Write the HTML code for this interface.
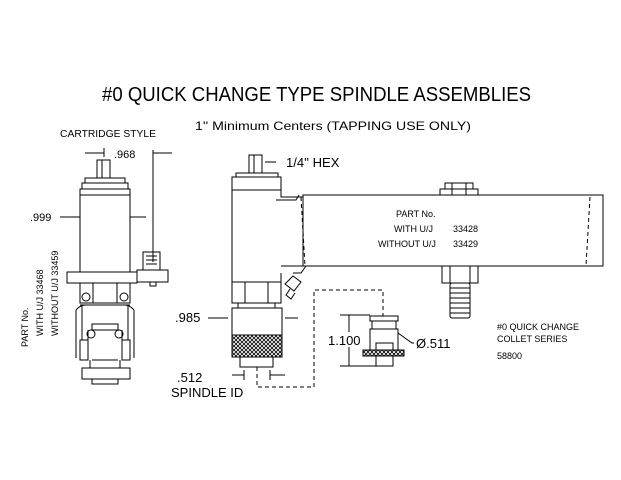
<!DOCTYPE html>
<html><head><style>body{margin:0;background:#fff}svg{display:block}text{font-family:"Liberation Sans",sans-serif;fill:#000}</style></head>
<body>
<svg width="621" height="480" viewBox="0 0 621 480" xmlns="http://www.w3.org/2000/svg">
<g fill="none" stroke="#000" stroke-width="1">
<text x="102" y="101" font-size="20" textLength="429" lengthAdjust="spacingAndGlyphs" stroke="none">#0 QUICK CHANGE TYPE SPINDLE ASSEMBLIES</text>
<text x="195" y="130" font-size="12" textLength="276" lengthAdjust="spacingAndGlyphs" stroke="none">1'' Minimum Centers  (TAPPING USE ONLY)</text>

<text x="60" y="137" font-size="10" textLength="96" lengthAdjust="spacingAndGlyphs" stroke="none">CARTRIDGE STYLE</text>
<text x="114" y="158" font-size="11" stroke="none">.968</text>
<path d="M85 153H104M104 148V157M153 150V262M153 153H172"/>
<text x="30" y="221" font-size="11" stroke="none">.999</text>
<path d="M60 217H80M130 217H146"/>
<rect x="97" y="160" width="13" height="18"/>
<path d="M102 160V178"/>
<rect x="85" y="178" width="40" height="5"/><rect x="82" y="183" width="46" height="6"/><rect x="80" y="189" width="50" height="6"/>
<rect x="80" y="195" width="50" height="77"/>
<rect x="67" y="272" width="70" height="11"/>
<rect x="137" y="270" width="31" height="12"/><path d="M150 282v4h6v-4"/>
<rect x="143" y="252" width="17" height="18"/><path d="M146 256h11M146 260h11M146 264h11"/>
<rect x="80" y="283" width="50" height="20"/><path d="M93 283V303M117 283V303"/>
<circle cx="86" cy="297" r="4"/><circle cx="124" cy="297" r="4"/>
<path d="M80 305H130M82 305V340M128 305V340M76 310V358M134 310V358M76 310Q80 305 86 305M134 310Q130 305 124 305"/>
<circle cx="91" cy="334" r="4"/><circle cx="119" cy="334" r="4"/>
<rect x="92" y="324" width="26" height="6"/>
<rect x="80" y="340" width="8" height="20"/><rect x="122" y="340" width="8" height="20"/>
<path d="M88 330V360M122 330V360M90 360V368M120 360V368M92 360H118"/>
<rect x="82" y="368" width="48" height="11"/><rect x="92" y="379" width="26" height="5"/>
<g stroke="none" font-size="9">
<text transform="translate(28,347) rotate(-90)">PART No.</text>
<text transform="translate(43,336) rotate(-90)">WITH U/J 33468</text>
<text transform="translate(58,336) rotate(-90)">WITHOUT U/J 33459</text>
</g>

<rect x="249" y="155" width="13" height="18"/>
<path d="M254 155V173M265 162H276"/>
<text x="286" y="167" font-size="13" stroke="none">1/4'' HEX</text>
<rect x="236" y="173" width="42" height="4"/><rect x="232" y="177" width="49" height="13"/>
<path d="M232 190V303H281V273M232 282H281M245 282V303M268 282V303"/>
<path d="M281 190V197h22M276 200h20l3-5M281 266h25l-5 7h-8"/>
<rect x="303" y="195" width="300" height="71"/>
<path d="M301 197L305 266M590 197L586 266" stroke-dasharray="4 3"/>
<rect x="440" y="189" width="38" height="6"/><rect x="445" y="183" width="28" height="6"/><path d="M452 183v12M466 183v12"/>
<rect x="442" y="266" width="36" height="17"/><path d="M450 266v17M470 266v17"/>
<rect x="450" y="283" width="20" height="35" rx="2"/><path d="M450 288h20M450 293h20M450 298h20M450 303h20M450 308h20M450 313h20"/>
<g stroke="none" font-size="9">
<text x="396" y="217">PART No.</text>
<text x="394" y="232">WITH U/J</text><text x="453" y="232">33428</text>
<text x="378" y="247">WITHOUT U/J</text><text x="453" y="247">33429</text>
<text x="497" y="330">#0 QUICK CHANGE</text>
<text x="497" y="342">COLLET SERIES</text>
<text x="497" y="359">58800</text>
</g>
<path d="M285 284l8-8l8 6l-7 9zM290 289l-4 6l5 4l4-6"/>
<rect x="238" y="303" width="37" height="5"/>
<rect x="232" y="308" width="50" height="27"/>
<rect x="232" y="335" width="50" height="22" fill="url(#kn)"/>
<rect x="240" y="357" width="33" height="10"/>
<text x="175" y="322" font-size="13" stroke="none">.985</text>
<path d="M208 318H228M285 318H298"/>
<text x="177" y="382" font-size="13" stroke="none">.512</text>
<text x="171" y="397" font-size="13" stroke="none">SPINDLE ID</text>
<path d="M232 375H244M244 370V380M270 370V380M270 375H285"/>
<path d="M257 367V387H314V290H383V316" stroke-dasharray="4 3"/>
<rect x="370" y="316" width="28" height="5"/><rect x="372" y="321" width="24" height="8"/><rect x="370" y="329" width="28" height="21"/>
<rect x="363" y="350" width="41" height="6" fill="url(#kn)"/>
<rect x="376" y="343" width="17" height="7"/><rect x="376" y="356" width="17" height="10"/>
<path d="M340 315H370M340 366H376M349 315V332M349 347V366"/>
<text x="328" y="345" font-size="13" stroke="none">1.100</text>
<path d="M398 333L412 343H414"/>
<text x="416" y="348" font-size="13" stroke="none">Ø.511</text>
</g>
<defs><pattern id="kn" width="4" height="4" patternUnits="userSpaceOnUse"><rect width="4" height="4" fill="#fff"/><path d="M0 0L4 4M4 0L0 4" stroke="#000" stroke-width="0.8"/></pattern></defs>
</svg>
</body></html>
